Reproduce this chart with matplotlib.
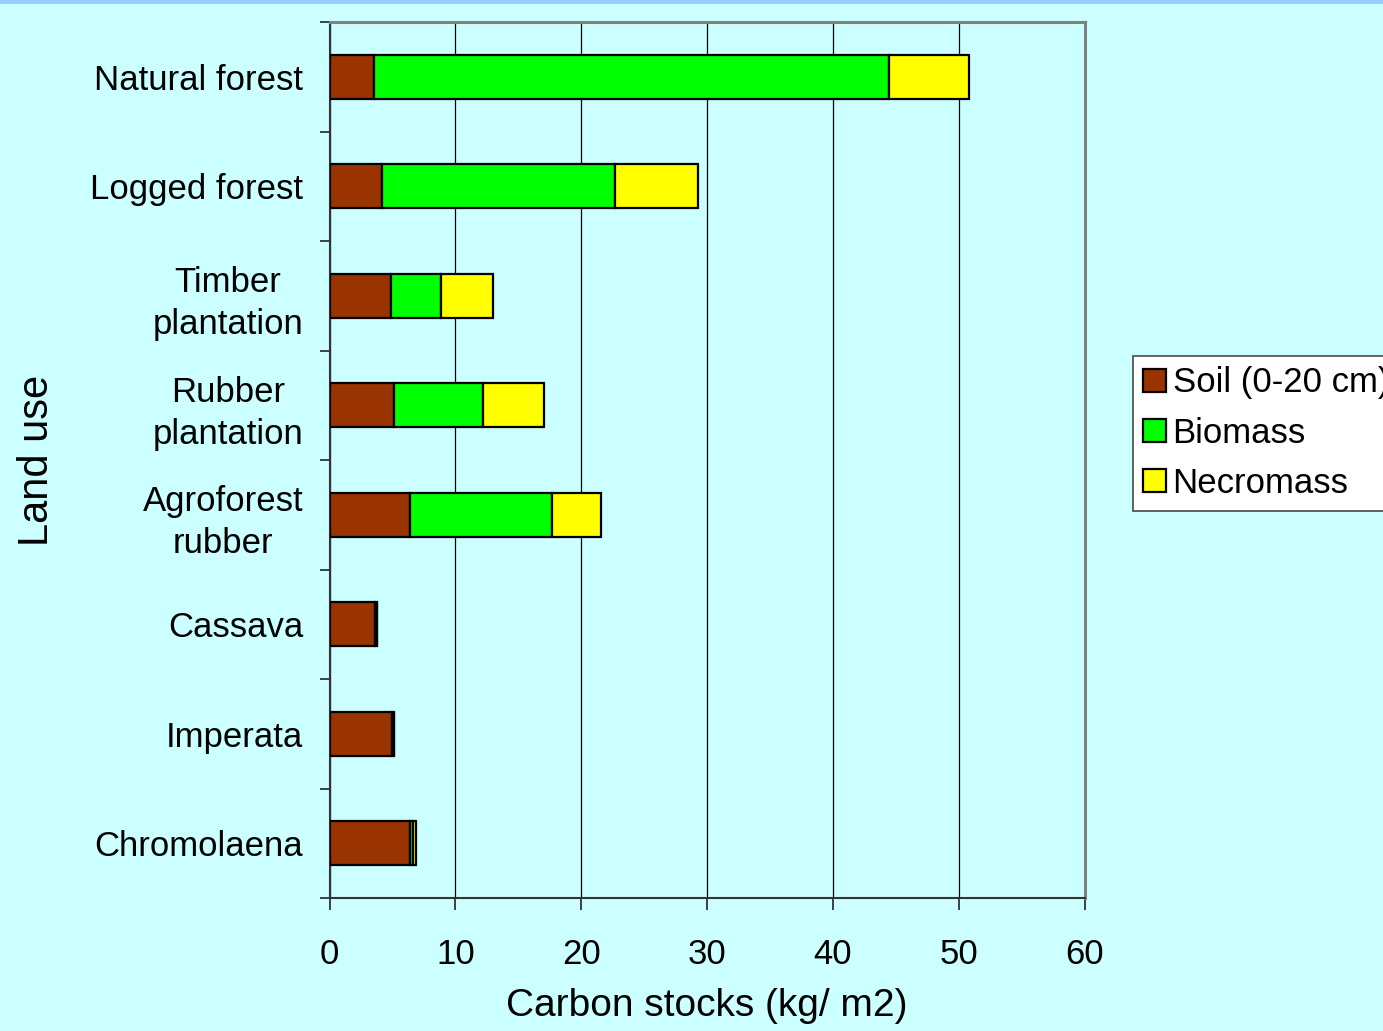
import matplotlib
matplotlib.use("Agg")
import matplotlib.pyplot as plt
import numpy as np
from matplotlib.ticker import FixedLocator, NullFormatter, FixedFormatter
from matplotlib.patches import Rectangle

plt.rcParams['font.family'] = ['Liberation Sans', 'DejaVu Sans']

# Carbon stocks (kg/m2) per land use, stacked by pool
land_use = ["Natural forest", "Logged forest", "Timber\nplantation",
            "Rubber\nplantation", "Agroforest\nrubber", "Cassava",
            "Imperata", "Chromolaena"]
soil = [3.5, 4.2, 4.85, 5.1, 6.4, 3.65, 4.95, 6.4]
biomass = [41.0, 18.5, 4.05, 7.1, 11.3, 0.1, 0.15, 0.2]
necromass = [6.3, 6.6, 4.1, 4.85, 3.9, 0.05, 0.05, 0.25]

series_names = ["Soil (0-20 cm)", "Biomass", "Necromass"]
series_colors = ["#993300", "#00FF00", "#FFFF00"]
x_ticks = [0, 10, 20, 30, 40, 50, 60]

BG = "#CCFFFF"
fig = plt.figure(figsize=(13.83, 10.31), dpi=100, facecolor=BG)
# thin banner along the top edge
fig.patches.append(Rectangle((0, 1 - 4 / 1031), 1, 4 / 1031, transform=fig.transFigure,
                             facecolor="#99CCFF", edgecolor="none", zorder=0))

ax = fig.add_axes([329.5 / 1383, 1 - 898 / 1031, 755 / 1383, 876 / 1031])
ax.set_facecolor(BG)

y = np.arange(len(land_use))
left = np.zeros(len(land_use))
for vals, name, col in zip([soil, biomass, necromass], series_names, series_colors):
    ax.barh(y, vals, left=left, height=0.4, color=col, edgecolor="black",
            linewidth=1.6, label=name, zorder=3)
    left = left + np.array(vals)

ax.set_xlim(0, 60)
ax.set_ylim(len(land_use) - 0.5, -0.5)

ax.set_xticks(x_ticks)
ax.set_xticklabels([str(t) for t in x_ticks], fontsize=25)
ax.tick_params(axis="x", direction="out", length=8.5, width=1.2, pad=20, color="#222222")

# category boundaries carry the tick marks, names sit between them
ax.yaxis.set_major_locator(FixedLocator(np.arange(-0.5, len(land_use), 1.0)))
ax.yaxis.set_major_formatter(NullFormatter())
ax.yaxis.set_minor_locator(FixedLocator(y))
ax.yaxis.set_minor_formatter(FixedFormatter(land_use))
ax.tick_params(axis="y", which="major", direction="out", length=7, width=1.2, color="#222222")
ax.tick_params(axis="y", which="minor", length=0, pad=19, labelsize=25)
for lbl in ax.yaxis.get_minorticklabels():
    lbl.set_multialignment("center")
    lbl.set_linespacing(1.35)

ax.grid(axis="x", color="black", linewidth=0.9, zorder=1)
ax.set_axisbelow(True)

for side in ["top", "right"]:
    ax.spines[side].set_color("#808080")
    ax.spines[side].set_linewidth(2.2)
for side in ["left", "bottom"]:
    ax.spines[side].set_color("#333333")
    ax.spines[side].set_linewidth(1.5)

fig.text(707 / 1383, 1 - 1006 / 1031, "Carbon stocks (kg/ m2)", fontsize=28,
         ha="center", va="center")
fig.text(37 / 1383, 1 - 460 / 1031, "Land use", fontsize=30, rotation=90,
         ha="center", va="center")

leg = ax.legend(loc="upper left", bbox_to_anchor=(1133 / 1383, 1 - 356 / 1031),
                bbox_transform=fig.transFigure, fontsize=25, frameon=True,
                fancybox=False, framealpha=1, handlelength=0.64, handleheight=0.64,
                handletextpad=0.2, labelspacing=0.5, borderpad=0.3, borderaxespad=0)
leg.get_frame().set_edgecolor("#555555")
leg.get_frame().set_linewidth(1.3)
leg.get_frame().set_facecolor("white")

fig.savefig("out.png", dpi=100, facecolor=BG)
